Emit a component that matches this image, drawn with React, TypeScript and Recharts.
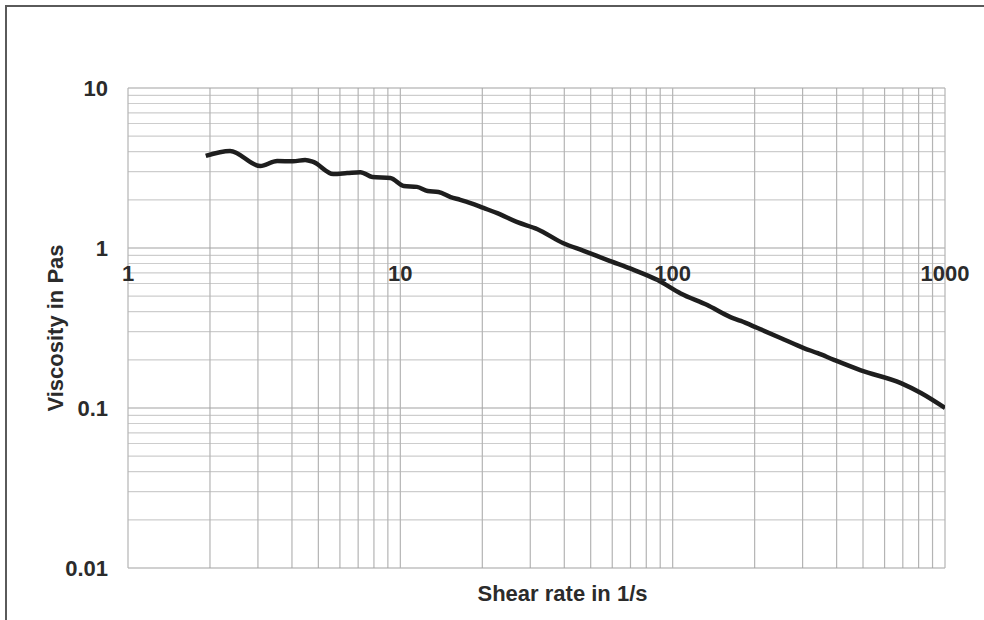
import React from "react";
import { Line, LineChart, ReferenceLine, XAxis, YAxis } from "recharts";

// shear rate (1/s) and viscosity (Pa·s)
const shearRate = [
  1.93, 2.37, 3.06, 3.53, 4.04, 4.47, 4.79, 5.67, 6.38, 7.13, 7.89, 9.19, 10.3,
  11.5, 12.6, 13.8, 15.3, 16.6, 18.1, 20.2, 22.7, 26.9, 31.9, 39.7, 47.1, 57.7,
  71.9, 88.1, 107, 134, 163, 178, 205, 249, 303, 341, 391, 491, 689, 816, 1000,
];
const viscosity = [
  3.76, 4.04, 3.25, 3.5, 3.48, 3.55, 3.45, 2.9, 2.94, 2.98, 2.78, 2.74, 2.44,
  2.41, 2.27, 2.24, 2.08, 2.0, 1.91, 1.78, 1.65, 1.45, 1.31, 1.07, 0.96, 0.84,
  0.73, 0.63, 0.52, 0.44, 0.37, 0.35, 0.316, 0.274, 0.237, 0.22, 0.2, 0.172,
  0.143, 0.124, 0.1,
];

const xTicks = [1, 10, 100, 1000];
const yTicks = [0.01, 0.1, 1, 10];
const yTickLabels = ["0.01", "0.1", "1", "10"];

const xMinorGrid = [2, 3, 4, 5, 6, 7, 8, 9, 20, 30, 40, 50, 60, 70, 80, 90, 200, 300, 400, 500, 600, 700, 800, 900];
const yMinorGrid = [
  0.02, 0.03, 0.04, 0.05, 0.06, 0.07, 0.08, 0.09, 0.2, 0.3, 0.4, 0.5, 0.6, 0.7,
  0.8, 0.9, 2, 3, 4, 5, 6, 7, 8, 9,
];

const data = shearRate.map((x, i) => ({ x, y: viscosity[i] }));

const FONT = "'Liberation Sans', Arial, sans-serif";
const TEXT = "#2b2b2b";
const FS = 22;

// x labels sit on the y = 1 line, not under the plot
function XTick({ x, y, payload }: { x?: number; y?: number; payload?: { value: number } }) {
  return (
    <text
      x={x}
      y={(y ?? 0) - 295}
      textAnchor="middle"
      dominantBaseline="central"
      fontFamily={FONT}
      fontWeight="bold"
      fontSize={FS}
      fill={TEXT}
    >
      {payload?.value}
    </text>
  );
}

function XTitle({ viewBox }: { viewBox?: { x: number; y: number; width: number } }) {
  if (!viewBox) return null;
  return (
    <text
      x={viewBox.x + viewBox.width / 2 + 26}
      y={viewBox.y + 25}
      textAnchor="middle"
      dominantBaseline="central"
      fontFamily={FONT}
      fontWeight="bold"
      fontSize={FS}
      fill={TEXT}
    >
      Shear rate in 1/s
    </text>
  );
}

function YTitle({ viewBox }: { viewBox?: { x: number; y: number; height: number } }) {
  if (!viewBox) return null;
  const cy = viewBox.y + viewBox.height / 2;
  return (
    <text
      x={55}
      y={cy}
      transform={`rotate(-90 55 ${cy})`}
      textAnchor="middle"
      dominantBaseline="central"
      fontFamily={FONT}
      fontWeight="bold"
      fontSize={FS}
      fill={TEXT}
    >
      Viscosity in Pas
    </text>
  );
}

export default function App() {
  return (
    <div style={{ position: "absolute", left: 0, top: 0, width: 984, height: 620, background: "#fff", overflow: "hidden" }}>
      <div
        style={{
          position: "absolute",
          left: 5,
          top: 5,
          width: 990,
          height: 630,
          borderLeft: "2px solid #5a5a5a",
          borderTop: "2px solid #5a5a5a",
        }}
      />
      <LineChart
        width={984}
        height={620}
        data={data}
        margin={{ top: 88, right: 39, left: 0, bottom: 0 }}
        style={{ position: "absolute", left: 0, top: 0 }}
      >
        <XAxis
          dataKey="x"
          type="number"
          scale="log"
          domain={[1, 1000]}
          ticks={xTicks}
          allowDataOverflow
          axisLine={false}
          tickLine={false}
          tickSize={0}
          tickMargin={0}
          height={52}
          tick={<XTick />}
          label={<XTitle />}
        />
        <YAxis
          type="number"
          scale="log"
          domain={[0.01, 10]}
          ticks={yTicks}
          allowDataOverflow
          axisLine={false}
          tickLine={false}
          tickSize={0}
          tickMargin={20}
          width={128}
          tickFormatter={(v: number) => yTickLabels[yTicks.indexOf(v)] ?? String(v)}
          tick={{ fontFamily: FONT, fontWeight: "bold", fontSize: FS, fill: TEXT }}
          label={<YTitle />}
        />
        {yMinorGrid.map((v) => (
          <ReferenceLine key={`h${v}`} y={v} stroke="#cdcdcd" strokeWidth={1.2} />
        ))}
        {xMinorGrid.map((v) => (
          <ReferenceLine key={`v${v}`} x={v} stroke="#b4b4b4" strokeWidth={1.2} />
        ))}
        {yTicks.map((v) => (
          <ReferenceLine key={`H${v}`} y={v} stroke="#a2a2a2" strokeWidth={1.2} />
        ))}
        {xTicks.map((v) => (
          <ReferenceLine key={`V${v}`} x={v} stroke="#b4b4b4" strokeWidth={1.2} />
        ))}
        <Line
          dataKey="y"
          type="monotone"
          stroke="#1e1e1e"
          strokeWidth={4.5}
          dot={false}
          isAnimationActive={false}
        />
      </LineChart>
    </div>
  );
}
